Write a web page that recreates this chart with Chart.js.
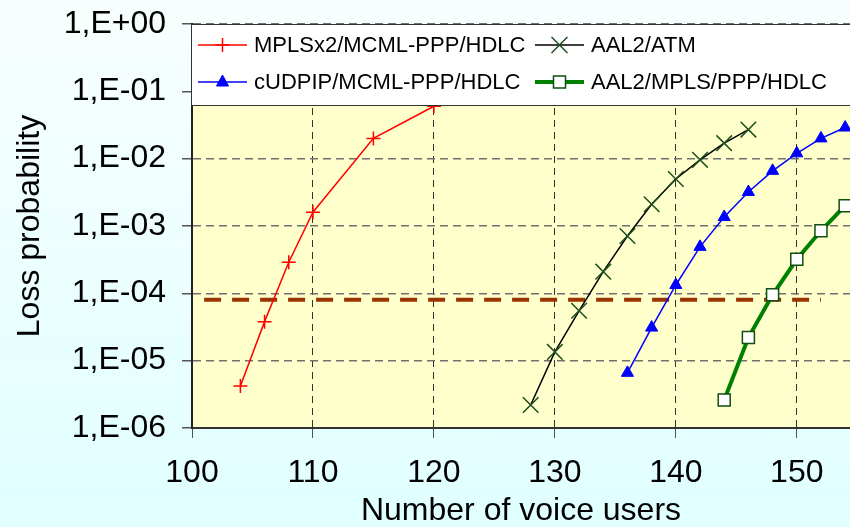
<!DOCTYPE html>
<html>
<head>
<meta charset="utf-8">
<script src="https://cdn.jsdelivr.net/npm/chart.js@4"></script>
<style>
  html, body { margin: 0; padding: 0; }
  body { width: 850px; height: 527px; overflow: hidden; }
  #wrap { width: 850px; height: 527px; background: linear-gradient(to bottom, #f8fefe, #e0ffff); }
</style>
</head>
<body>
<div id="wrap"><canvas id="lossChart" width="850" height="527"></canvas></div>
<script>
// ticks
const xTickValues = [100, 110, 120, 130, 140, 150];
const yTickValues = [1e-6, 1e-5, 1e-4, 1e-3, 1e-2, 1e-1, 1];
const yTickLabels = ['1,E-06', '1,E-05', '1,E-04', '1,E-03', '1,E-02', '1,E-01', '1,E+00'];

// series
const mplsX = [104, 106, 108, 110, 115, 120];
const mplsY = [4.2e-6, 3.8e-5, 2.9e-4, 1.6e-3, 2.0e-2, 6.0e-2];

const atmX = [128, 130, 132, 134, 136, 138, 140, 142, 144, 146];
const atmY = [2.2e-6, 1.35e-5, 5.5e-5, 2.1e-4, 7.1e-4, 2.1e-3, 5.0e-3, 9.6e-3, 1.7e-2, 2.7e-2];

const cudpX = [136, 138, 140, 142, 144, 146, 148, 150, 152, 154];
const cudpY = [6.6e-6, 3.1e-5, 1.33e-4, 4.9e-4, 1.36e-3, 3.2e-3, 6.6e-3, 1.2e-2, 2.0e-2, 2.9e-2];

const aalMplsX = [144, 146, 148, 150, 152, 154];
const aalMplsY = [2.6e-6, 2.2e-5, 9.5e-5, 3.2e-4, 8.5e-4, 2.0e-3];

const limitX = [101, 152];
const limitY = [8e-5, 8e-5];

const seriesNames = ['MPLSx2/MCML-PPP/HDLC', 'AAL2/ATM', 'cUDPIP/MCML-PPP/HDLC', 'AAL2/MPLS/PPP/HDLC'];

function toPoints(xs, ys) {
    return xs.map((x, i) => ({ x: x, y: ys[i] }));
}

const FONT = "'Liberation Sans', Arial, sans-serif";
const noPadding = () => ({ left: 0, top: 0, right: 0, bottom: 0 });

const plotBackground = {
    id: 'plotBackground',
    beforeDraw(chart) {
        const { ctx, chartArea } = chart;
        ctx.save();
        ctx.fillStyle = '#ffffcc';
        ctx.fillRect(chartArea.left, chartArea.top, chartArea.right - chartArea.left, chartArea.bottom - chartArea.top);
        ctx.restore();
    }
};

function drawMarker(ctx, style, x, y) {
    ctx.beginPath();
    if (style === 'cross') {
        ctx.moveTo(x - 7, y); ctx.lineTo(x + 7, y);
        ctx.moveTo(x, y - 7); ctx.lineTo(x, y + 7);
        ctx.stroke();
    } else if (style === 'crossRot') {
        ctx.moveTo(x - 8, y - 8); ctx.lineTo(x + 8, y + 8);
        ctx.moveTo(x + 8, y - 8); ctx.lineTo(x - 8, y + 8);
        ctx.stroke();
    } else if (style === 'triangle') {
        ctx.moveTo(x, y - 7);
        ctx.lineTo(x + 6, y + 4);
        ctx.lineTo(x - 6, y + 4);
        ctx.closePath();
        ctx.fill();
        ctx.stroke();
    } else if (style === 'rect') {
        ctx.rect(x - 6, y - 6, 12, 12);
        ctx.fill();
        ctx.stroke();
    }
}

// legend box sits on top of the plot, like the original
const boxLegend = {
    id: 'boxLegend',
    afterDraw(chart) {
        const ctx = chart.ctx;
        ctx.save();
        ctx.fillStyle = '#ffffff';
        ctx.fillRect(191, 24, 660, 82);
        ctx.strokeStyle = '#333333';
        ctx.lineWidth = 1;
        ctx.strokeRect(191.5, 24.5, 665, 81);

        const slots = [
            { x: 198, y: 45 }, { x: 535, y: 45 },
            { x: 198, y: 82 }, { x: 535, y: 82 }
        ];
        ctx.font = '22px ' + FONT;
        ctx.textBaseline = 'middle';
        chart.data.datasets.slice(0, 4).forEach((ds, i) => {
            const s = slots[i];
            ctx.strokeStyle = ds.borderColor;
            ctx.lineWidth = ds.borderWidth;
            ctx.beginPath();
            ctx.moveTo(s.x, s.y);
            ctx.lineTo(s.x + 49, s.y);
            ctx.stroke();
            ctx.strokeStyle = ds.pointBorderColor;
            ctx.fillStyle = ds.pointBackgroundColor;
            ctx.lineWidth = ds.pointBorderWidth;
            drawMarker(ctx, ds.pointStyle, s.x + 24.5, s.y);
            ctx.fillStyle = '#000000';
            ctx.fillText(ds.label, s.x + 56, s.y + 1);
        });
        ctx.restore();
    }
};

const chartConfig = {
    type: 'scatter',
    data: {
        datasets: [
            {
                label: seriesNames[0],
                data: toPoints(mplsX, mplsY),
                showLine: true,
                borderColor: '#ff0000',
                borderWidth: 1.5,
                pointStyle: 'cross',
                pointRadius: 7,
                pointBorderColor: '#ff0000',
                pointBackgroundColor: '#ff0000',
                pointBorderWidth: 1.5,
            },
            {
                label: seriesNames[1],
                data: toPoints(atmX, atmY),
                showLine: true,
                borderColor: '#000000',
                borderWidth: 1.5,
                pointStyle: 'crossRot',
                pointRadius: 11,
                pointBorderColor: '#1e4d1e',
                pointBackgroundColor: '#1e4d1e',
                pointBorderWidth: 1.5,
            },
            {
                label: seriesNames[2],
                data: toPoints(cudpX, cudpY),
                showLine: true,
                borderColor: '#0000ff',
                borderWidth: 1.5,
                pointStyle: 'triangle',
                pointRadius: 7,
                pointBorderColor: '#0000ff',
                pointBackgroundColor: '#0000ff',
                pointBorderWidth: 1,
            },
            {
                label: seriesNames[3],
                data: toPoints(aalMplsX, aalMplsY),
                showLine: true,
                borderColor: '#008000',
                borderWidth: 4,
                pointStyle: 'rect',
                pointRadius: 8.5,
                pointBorderColor: '#0f4f0f',
                pointBackgroundColor: '#ffffff',
                pointBorderWidth: 1.5,
            },
            {
                label: 'limit',
                data: toPoints(limitX, limitY),
                showLine: true,
                borderColor: '#993300',
                borderWidth: 4,
                borderDash: [17, 11],
                pointRadius: 0,
            },
        ],
    },
    options: {
        responsive: false,
        animation: false,
        layout: { autoPadding: false, padding: { left: 0, top: 24, right: 0, bottom: 0 } },
        plugins: {
            legend: { display: false },
            tooltip: { enabled: false },
        },
        scales: {
            x: {
                type: 'linear',
                min: 100,
                max: 154.4,
                afterBuildTicks: scale => { scale.ticks = xTickValues.map(v => ({ value: v })); },
                afterFit: scale => {
                    scale.height = 99;
                    scale.paddingLeft = 0;
                    scale.paddingRight = 0;
                    scale.getPadding = noPadding;
                },
                ticks: {
                    font: { family: FONT, size: 32 },
                    color: '#000000',
                    padding: 16,
                    maxRotation: 0,
                },
                grid: {
                    color: '#333333',
                    lineWidth: 1,
                    tickLength: 10,
                    tickColor: '#555555',
                },
                border: { display: true, color: '#333333', width: 2, dash: [7, 5] },
                title: {
                    display: true,
                    text: 'Number of voice users',
                    font: { family: FONT, size: 32, lineHeight: 1 },
                    color: '#000000',
                    padding: { top: 0, bottom: 0 },
                },
            },
            y: {
                type: 'logarithmic',
                min: 1e-6,
                max: 1,
                afterBuildTicks: scale => { scale.ticks = yTickValues.map(v => ({ value: v })); },
                afterFit: scale => {
                    scale.width = 192;
                    scale.paddingTop = 0;
                    scale.paddingBottom = 0;
                    scale.getPadding = noPadding;
                },
                ticks: {
                    font: { family: FONT, size: 32 },
                    color: '#000000',
                    padding: 16,
                    callback: value => {
                        const idx = yTickValues.findIndex(v => Math.abs(Math.log10(v) - Math.log10(value)) < 1e-6);
                        return idx >= 0 ? yTickLabels[idx] : '';
                    },
                },
                grid: {
                    color: '#707070',
                    lineWidth: 1.5,
                    tickLength: 10,
                    tickColor: '#555555',
                },
                border: { display: true, color: '#222222', width: 2, dash: [8, 5] },
                title: {
                    display: true,
                    text: 'Loss probability',
                    font: { family: FONT, size: 32, lineHeight: 1 },
                    color: '#000000',
                    padding: { top: 14, bottom: 0 },
                },
            },
        },
    },
    plugins: [plotBackground, boxLegend],
};

new Chart(document.getElementById('lossChart'), chartConfig);
</script>
</body>
</html>
